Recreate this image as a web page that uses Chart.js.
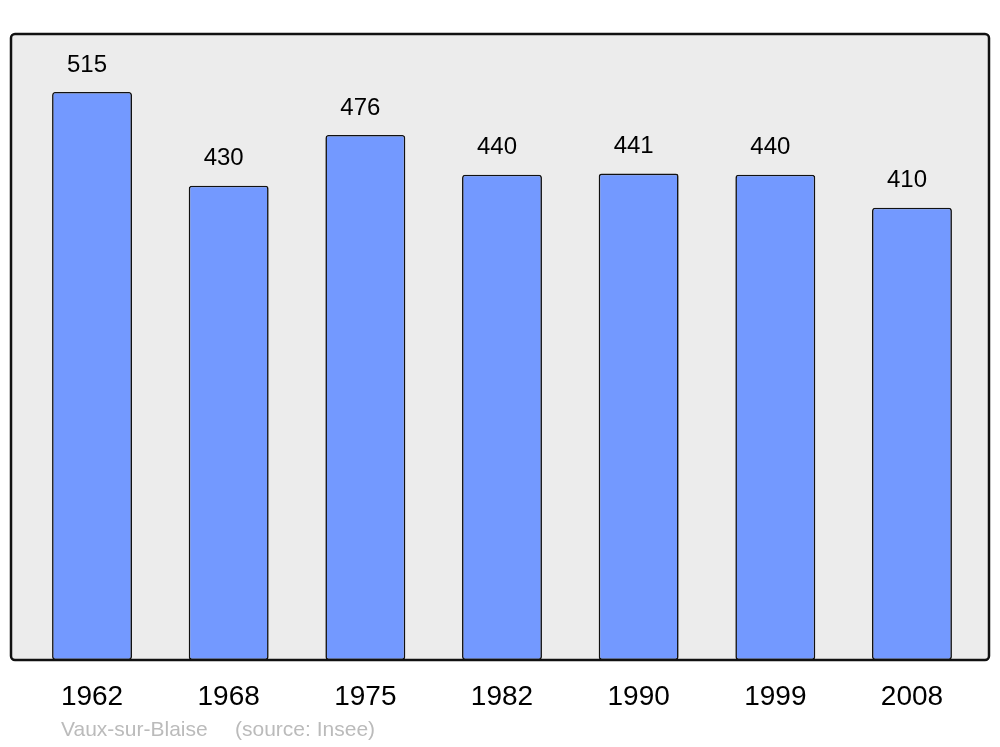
<!DOCTYPE html>
<html>
<head>
<meta charset="utf-8">
<script src="https://cdn.jsdelivr.net/npm/chart.js@4/dist/chart.umd.min.js"></script>
<style>
  body { margin: 0; background: #fff; }
  #wrap { width: 1000px; height: 747px; }
</style>
</head>
<body>
<div id="wrap"><canvas id="chart" width="1000" height="747"></canvas></div>
<script>
var years = ['1962', '1968', '1975', '1982', '1990', '1999', '2008'];
var population = [515, 430, 476, 440, 441, 440, 410];
var commune = 'Vaux-sur-Blaise';
var source = '(source: Insee)';

// grey panel with dark border behind the bars
var framePlugin = {
  id: 'frame',
  beforeDraw: function(chart) {
    var ctx = chart.ctx;
    ctx.save();
    ctx.beginPath();
    ctx.roundRect(11, 34, 978, 626, 4);
    ctx.fillStyle = '#ececec';
    ctx.fill();
    ctx.restore();
  },
  afterDatasetsDraw: function(chart) {
    var ctx = chart.ctx;
    ctx.save();
    ctx.beginPath();
    ctx.roundRect(11, 34, 978, 626, 4);
    ctx.lineWidth = 2.5;
    ctx.strokeStyle = '#111';
    ctx.stroke();

    // value labels above the bars
    var meta = chart.getDatasetMeta(0);
    ctx.fillStyle = '#000';
    ctx.font = '24px "Liberation Sans", Arial, sans-serif';
    ctx.textAlign = 'center';
    ctx.textBaseline = 'middle';
    for (var i = 0; i < meta.data.length; i++) {
      var bar = meta.data[i];
      ctx.fillText(population[i], bar.x - 5, bar.y - 27);
    }

    // footer
    ctx.fillStyle = '#bbbbbb';
    ctx.font = '21px "Liberation Sans", Arial, sans-serif';
    ctx.textAlign = 'left';
    ctx.fillText(commune, 61, 730);
    ctx.fillText(source, 235, 730);
    ctx.restore();
  }
};

var ctx = document.getElementById('chart').getContext('2d');
var chart = new Chart(ctx, {
  type: 'bar',
  data: {
    labels: years,
    datasets: [{
      data: population,
      backgroundColor: '#7399ff',
      borderColor: '#111',
      borderWidth: 1.6,
      borderRadius: 3,
      borderSkipped: false,
      barPercentage: 0.585,
      categoryPercentage: 1
    }]
  },
  plugins: [framePlugin],
  options: {
    responsive: false,
    animation: false,
    layout: { padding: { left: 23.7, right: 19.7, top: 34, bottom: 0 } },
    plugins: {
      legend: { display: false },
      tooltip: { enabled: false }
    },
    scales: {
      x: {
        grid: { display: false },
        border: { display: false },
        ticks: {
          color: '#000',
          font: { family: '"Liberation Sans", Arial, sans-serif', size: 28 },
          padding: 12
        },
        afterFit: function(scale) { scale.height = 87; }
      },
      y: {
        display: false,
        min: 0,
        max: 567.5
      }
    }
  }
});
</script>
</body>
</html>
